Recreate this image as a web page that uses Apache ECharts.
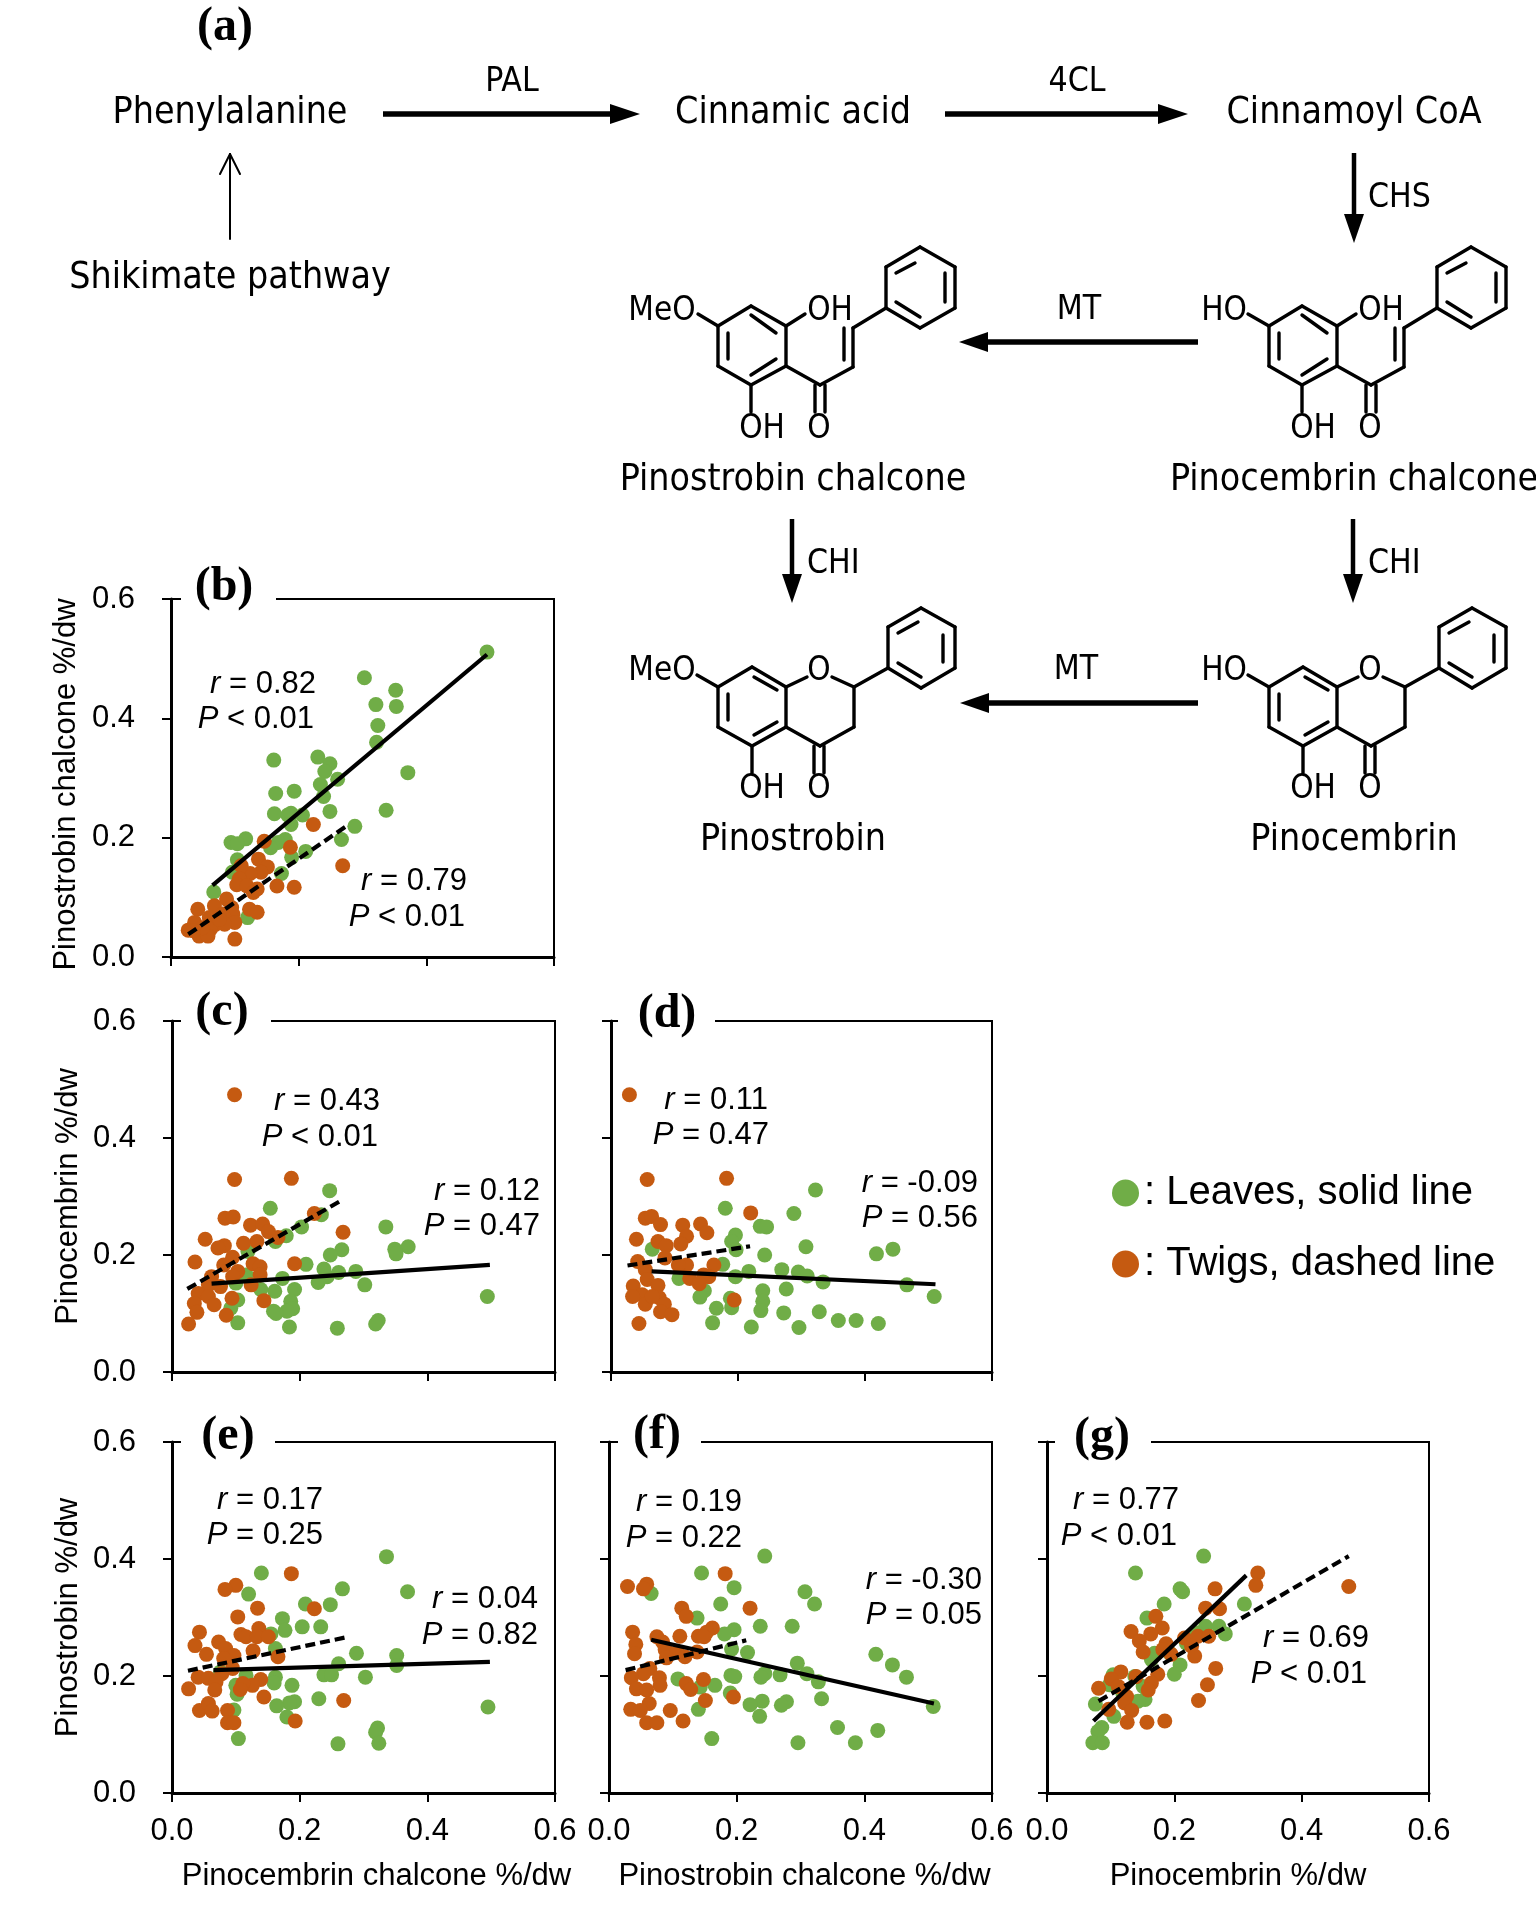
<!DOCTYPE html>
<html><head><meta charset="utf-8"><title>Flavonoid pathway and correlations</title>
<style>html,body{margin:0;padding:0;background:#fff}#chart{width:1536px;height:1912px}</style>
<script src="https://cdn.jsdelivr.net/npm/echarts@6/dist/echarts.min.js"></script>
</head><body><div id="chart"></div>
<script>
const bLeaves=[[.495,.511],[.303,.468],[.352,.447],[.353,.420],[.321,.423],[.324,.388],[.322,.360],[.371,.309],[.337,.246],[.161,.330],[.230,.335],[.249,.324],[.241,.311],[.261,.298],[.234,.289],[.239,.269],[.193,.278],[.164,.274],[.162,.240],[.183,.238],[.188,.241],[.206,.238],[.249,.244],[.188,.222],[.288,.219],[.267,.197],[.117,.198],[.094,.192],[.104,.190],[.179,.197],[.168,.192],[.156,.183],[.211,.177],[.189,.167],[.104,.163],[.096,.142],[.173,.140],[.067,.109],[.120,.066]];
const bTwigs=[[.223,.222],[.146,.194],[.187,.184],[.269,.153],[.193,.117],[.166,.119],[.137,.164],[.151,.151],[.141,.142],[.124,.140],[.110,.153],[.107,.131],[.103,.121],[.119,.119],[.135,.114],[.129,.108],[.087,.097],[.068,.086],[.042,.080],[.123,.080],[.135,.075],[.095,.083],[.097,.072],[.081,.072],[.060,.066],[.037,.058],[.027,.045],[.100,.058],[.084,.055],[.070,.055],[.062,.047],[.044,.035],[.058,.035],[.100,.030],[.049,.049],[.035,.044],[.076,.063]];
const cLeaves=[[.494,.129],[.247,.310],[.154,.280],[.234,.269],[.335,.248],[.203,.248],[.179,.233],[.162,.223],[.119,.206],[.370,.214],[.349,.210],[.351,.202],[.266,.209],[.248,.200],[.210,.184],[.238,.176],[.261,.170],[.288,.172],[.243,.163],[.229,.153],[.302,.149],[.173,.160],[.192,.141],[.161,.138],[.139,.141],[.116,.166],[.100,.152],[.103,.123],[.186,.121],[.189,.108],[.180,.104],[.159,.104],[.163,.100],[.092,.109],[.103,.084],[.184,.077],[.259,.075],[.323,.088],[.319,.082]];
const cTwigs=[[.098,.474],[.098,.329],[.187,.331],[.223,.271],[.268,.239],[.192,.185],[.083,.263],[.096,.265],[.123,.251],[.142,.253],[.151,.240],[.166,.230],[.052,.227],[.133,.223],[.112,.220],[.082,.216],[.072,.212],[.036,.188],[.095,.196],[.081,.183],[.127,.185],[.138,.180],[.138,.166],[.103,.172],[.095,.163],[.124,.149],[.062,.163],[.076,.146],[.057,.149],[.041,.134],[.057,.129],[.035,.117],[.066,.115],[.039,.102],[.094,.126],[.144,.122],[.085,.097],[.026,.082]];
const dLeaves=[[.509,.129],[.322,.311],[.288,.271],[.180,.280],[.235,.249],[.245,.248],[.196,.234],[.190,.223],[.197,.209],[.307,.214],[.444,.210],[.418,.202],[.242,.200],[.176,.184],[.065,.210],[.269,.175],[.217,.172],[.295,.171],[.309,.164],[.196,.163],[.107,.160],[.334,.154],[.466,.149],[.276,.142],[.239,.139],[.147,.139],[.140,.128],[.239,.121],[.188,.126],[.190,.110],[.236,.105],[.166,.109],[.272,.101],[.328,.103],[.160,.084],[.358,.088],[.386,.088],[.421,.083],[.221,.077],[.296,.076]];
const dTwigs=[[.029,.474],[.057,.329],[.182,.331],[.220,.272],[.054,.263],[.064,.266],[.078,.252],[.113,.251],[.141,.253],[.151,.238],[.119,.232],[.110,.219],[.040,.227],[.074,.223],[.087,.216],[.085,.195],[.042,.189],[.119,.183],[.106,.183],[.162,.183],[.146,.166],[.154,.163],[.054,.175],[.057,.158],[.074,.148],[.124,.160],[.139,.151],[.035,.147],[.049,.132],[.034,.129],[.076,.127],[.054,.116],[.084,.116],[.078,.103],[.096,.098],[.194,.123],[.044,.083],[.065,.129]];
const eLeaves=[[.495,.147],[.336,.404],[.140,.376],[.369,.344],[.267,.349],[.120,.340],[.209,.323],[.248,.322],[.173,.298],[.204,.284],[.233,.284],[.177,.278],[.155,.272],[.162,.247],[.289,.239],[.352,.235],[.261,.221],[.352,.218],[.238,.202],[.250,.202],[.303,.198],[.162,.198],[.160,.188],[.188,.184],[.116,.201],[.100,.184],[.102,.169],[.230,.161],[.192,.156],[.184,.154],[.164,.149],[.180,.130],[.097,.142],[.104,.093],[.322,.111],[.319,.104],[.324,.085],[.260,.084],[.076,.207]];
const eTwigs=[[.187,.375],[.100,.355],[.083,.348],[.223,.315],[.134,.316],[.103,.301],[.043,.275],[.036,.252],[.136,.281],[.108,.271],[.116,.267],[.133,.267],[.151,.267],[.073,.258],[.084,.247],[.127,.243],[.054,.237],[.097,.235],[.166,.233],[.081,.230],[.095,.213],[.078,.204],[.041,.198],[.057,.196],[.069,.190],[.067,.176],[.026,.178],[.139,.194],[.126,.184],[.111,.187],[.107,.177],[.144,.164],[.269,.158],[.043,.141],[.057,.153],[.063,.140],[.087,.141],[.193,.123],[.087,.120],[.097,.120]];
const fLeaves=[[.508,.148],[.244,.405],[.145,.376],[.307,.344],[.196,.351],[.066,.341],[.322,.323],[.175,.323],[.138,.299],[.237,.285],[.287,.285],[.196,.279],[.181,.272],[.192,.246],[.217,.240],[.418,.237],[.444,.219],[.295,.222],[.310,.204],[.466,.198],[.244,.204],[.238,.198],[.268,.202],[.191,.201],[.197,.199],[.108,.195],[.143,.181],[.166,.184],[.328,.190],[.190,.171],[.333,.161],[.240,.157],[.221,.151],[.278,.156],[.270,.150],[.140,.143],[.236,.131],[.161,.093],[.358,.112],[.421,.107],[.296,.086],[.386,.086]];
const fTwigs=[[.029,.353],[.059,.357],[.054,.349],[.182,.375],[.221,.316],[.114,.316],[.121,.302],[.162,.282],[.153,.275],[.140,.268],[.149,.267],[.037,.275],[.042,.254],[.040,.238],[.111,.268],[.075,.267],[.084,.258],[.088,.245],[.138,.241],[.107,.241],[.119,.233],[.090,.231],[.064,.213],[.054,.204],[.035,.197],[.079,.197],[.148,.194],[.080,.184],[.121,.187],[.128,.177],[.043,.178],[.059,.176],[.151,.158],[.195,.164],[.063,.153],[.034,.143],[.049,.141],[.096,.141],[.059,.120],[.075,.120],[.116,.123]];
const gLeaves=[[.246,.405],[.139,.376],[.209,.349],[.213,.344],[.184,.323],[.310,.323],[.157,.299],[.249,.285],[.270,.285],[.280,.272],[.169,.239],[.209,.219],[.200,.203],[.164,.228],[.193,.239],[.104,.202],[.138,.199],[.098,.185],[.151,.182],[.154,.160],[.143,.157],[.076,.152],[.105,.131],[.086,.112],[.080,.105],[.072,.086],[.087,.086],[.219,.256],[.235,.274],[.119,.171]];
const gTwigs=[[.331,.376],[.328,.355],[.474,.353],[.264,.349],[.249,.316],[.271,.315],[.171,.302],[.181,.282],[.163,.272],[.132,.276],[.145,.260],[.151,.241],[.187,.255],[.216,.265],[.237,.268],[.254,.268],[.227,.251],[.232,.234],[.195,.237],[.182,.245],[.265,.213],[.252,.185],[.238,.158],[.174,.203],[.164,.188],[.140,.199],[.159,.176],[.116,.207],[.101,.195],[.112,.182],[.081,.179],[.125,.165],[.122,.154],[.133,.141],[.097,.143],[.126,.121],[.157,.121],[.185,.123]];
const bLeafFit=[[.065,.120],[.495,.507]], bTwigFit=[[.027,.038],[.273,.218]];
const cLeafFit=[[.062,.151],[.498,.183]], cTwigFit=[[.024,.142],[.268,.295]];
const dLeafFit=[[.064,.172],[.511,.150]], dTwigFit=[[.026,.182],[.219,.215]];
const eLeafFit=[[.065,.210],[.498,.224]], eTwigFit=[[.025,.209],[.272,.266]];
const fLeafFit=[[.066,.262],[.509,.153]], fTwigFit=[[.026,.210],[.215,.261]];
const gLeafFit=[[.073,.123],[.313,.372]], gTwigFit=[[.081,.157],[.474,.405]];
const tickLabels=['0.0','0.2','0.4','0.6'];

const LEAF='#70AD47', TWIG='#C55A11';
const LEAF_NAME=': Leaves, solid line', TWIG_NAME=': Twigs, dashed line';
const SANS='"Liberation Sans", Arial, sans-serif';
const COND='"DejaVu Sans Condensed", "DejaVu Sans", sans-serif';
const SERIF='"Liberation Serif", "Times New Roman", serif';

const panels=[
 {tag:'(b)',lx:224,ly:588,gap:[181,276],box:[171,599,383,358],yName:'Pinostrobin chalcone %/dw',yGap:89,yPad:[0,13,0,0],yLabels:true,leaves:bLeaves,twigs:bTwigs,lf:bLeafFit,tf:bTwigFit,
  notes:[['r','= 0.82',316,684],['P','< 0.01',314,719],['r','= 0.79',467,881],['P','< 0.01',465,917]]},
 {tag:'(c)',lx:222,ly:1013,gap:[181,271],box:[172,1021,383,351],yName:'Pinocembrin %/dw',yGap:88,yPad:[0,0,0,0],yLabels:true,leaves:cLeaves,twigs:cTwigs,lf:cLeafFit,tf:cTwigFit,
  notes:[['r','= 0.43',380,1101],['P','< 0.01',378,1137],['r','= 0.12',540,1191],['P','= 0.47',540,1226]]},
 {tag:'(d)',lx:667,ly:1015,gap:[618,715],box:[611,1021,381,351],yLabels:false,leaves:dLeaves,twigs:dTwigs,lf:dLeafFit,tf:dTwigFit,
  notes:[['r','= 0.11',768,1100],['P','= 0.47',769,1135],['r','= -0.09',978,1183],['P','= 0.56',978,1218]]},
 {tag:'(e)',lx:228,ly:1437,gap:[181,275],box:[172,1442,383,351],yName:'Pinostrobin %/dw',yGap:88,yPad:[0,0,0,0],yLabels:true,xLabels:true,xName:'Pinocembrin chalcone %/dw',xPad:[0,0,0,26],leaves:eLeaves,twigs:eTwigs,lf:eLeafFit,tf:eTwigFit,
  notes:[['r','= 0.17',323,1500],['P','= 0.25',323,1535],['r','= 0.04',538,1599],['P','= 0.82',538,1635]]},
 {tag:'(f)',lx:657,ly:1436,gap:[618,701],box:[609,1442,383,351],yLabels:false,xLabels:true,xName:'Pinostrobin chalcone %/dw',xPad:[0,0,0,8],leaves:fLeaves,twigs:fTwigs,lf:fLeafFit,tf:fTwigFit,
  notes:[['r','= 0.19',742,1502],['P','= 0.22',742,1538],['r','= -0.30',982,1580],['P','= 0.05',982,1615]]},
 {tag:'(g)',lx:1102,ly:1438,gap:[1055,1151],box:[1047,1442,382,351],yLabels:false,xLabels:true,xName:'Pinocembrin %/dw',xPad:[0,0,0,0],leaves:gLeaves,twigs:gTwigs,lf:gLeafFit,tf:gTwigFit,
  notes:[['r','= 0.77',1179,1500],['P','< 0.01',1177,1536],['r','= 0.69',1369,1638],['P','< 0.01',1367,1674]]}
];

const grids=[],xAxes=[],yAxes=[],series=[],graphics=[];
const fmt=v=>tickLabels[Math.round(v/0.2)];
panels.forEach((p,i)=>{
  grids.push({left:p.box[0],top:p.box[1],width:p.box[2],height:p.box[3],show:true,borderColor:'#000',borderWidth:2,backgroundColor:'#fff',containLabel:false});
  const common={type:'value',min:0,max:0.6,interval:0.2,splitLine:{show:false},gridIndex:i,
    axisLine:{show:true,onZero:false,lineStyle:{color:'#000',width:3}},
    axisTick:{show:true,inside:false,length:9,lineStyle:{color:'#000',width:2}}};
  xAxes.push(Object.assign({},common,{
    axisLabel:{show:!!p.xLabels,formatter:fmt,color:'#000',fontFamily:SANS,fontSize:31,margin:23,showMinLabel:true,showMaxLabel:true,hideOverlap:false,alignMinLabel:'center',alignMaxLabel:'center'},
    name:p.xName||'',nameLocation:'middle',nameGap:68,nameTextStyle:{color:'#000',fontFamily:SANS,fontSize:31,padding:p.xPad||0}}));
  yAxes.push(Object.assign({},common,{
    axisLabel:{show:!!p.yLabels,formatter:fmt,color:'#000',fontFamily:SANS,fontSize:31,margin:36,padding:[3,0,0,0],showMinLabel:true,showMaxLabel:true,hideOverlap:false},
    name:p.yName||'',nameLocation:'middle',nameGap:p.yGap||90,nameRotate:90,nameTextStyle:{color:'#000',fontFamily:SANS,fontSize:31,padding:p.yPad||0}}));
  series.push({name:LEAF_NAME,type:'scatter',xAxisIndex:i,yAxisIndex:i,symbol:'circle',symbolSize:15,data:p.leaves,itemStyle:{color:LEAF,opacity:1},z:2});
  series.push({name:TWIG_NAME,type:'scatter',xAxisIndex:i,yAxisIndex:i,symbol:'circle',symbolSize:15,data:p.twigs,itemStyle:{color:TWIG,opacity:1},z:3});
  series.push({name:'Leaves fit '+p.tag,type:'line',xAxisIndex:i,yAxisIndex:i,data:p.lf,showSymbol:false,symbol:'none',lineStyle:{color:'#000',width:4.2,type:'solid'},z:4});
  series.push({name:'Twigs fit '+p.tag,type:'line',xAxisIndex:i,yAxisIndex:i,data:p.tf,showSymbol:false,symbol:'none',lineStyle:{color:'#000',width:4.2,type:[10,5]},z:4});
  graphics.push({type:'rect',shape:{x:p.gap[0],y:p.box[1]-5,width:p.gap[1]-p.gap[0],height:10},style:{fill:'#fff'},z:50});
  graphics.push(label(p.tag,p.lx,p.ly,{fontFamily:SERIF,fontWeight:'bold',fontSize:48},'center',51));
  p.notes.forEach(n=>graphics.push({type:'text',x:n[2],y:n[3],z:52,style:{
    text:'{i|'+n[0]+'} {n|'+n[1]+'}',align:'right',verticalAlign:'middle',textAlign:'right',textVerticalAlign:'middle',
    rich:{i:{fontFamily:SANS,fontStyle:'italic',fontSize:31,fill:'#000',color:'#000'},n:{fontFamily:SANS,fontSize:31,fill:'#000',color:'#000'}},
    fontFamily:SANS,fontSize:31,fill:'#000'}}));
});
function label(t,x,y,st,al,z){
  return {type:'text',x:x,y:y,z:z||60,style:Object.assign({text:t,fill:'#000',align:al||'center',verticalAlign:'middle',textAlign:al||'center',textVerticalAlign:'middle'},st)};
}
function seg(a,b,c,d,w){return {type:'line',z:60,shape:{x1:a,y1:b,x2:c,y2:d},style:{stroke:'#000',lineWidth:w||3,lineCap:'round'}};}
function head(pts){return {type:'polygon',z:60,shape:{points:pts},style:{fill:'#000'}};}
const PW={fontFamily:COND,fontSize:37.2}, EN={fontFamily:COND,fontSize:33.5}, AT={fontFamily:COND,fontSize:33};
const DY=3.5;
graphics.push(label('(a)',225,28,{fontFamily:SERIF,fontWeight:'bold',fontSize:48}));
[['Phenylalanine',230,110],['Shikimate pathway',230,275],['Cinnamic acid',793,110],['Cinnamoyl CoA',1354,110],['Pinostrobin chalcone',793,477],['Pinocembrin chalcone',1354,477],['Pinostrobin',793,837],['Pinocembrin',1354,837]]
 .forEach(t=>graphics.push(label(t[0],t[1],t[2]+DY,PW)));
[['PAL',512,79],['4CL',1077,79],['MT',1079,307],['MT',1076,667]].forEach(t=>graphics.push(label(t[0],t[1],t[2]+DY,EN)));
[['CHS',1368,195],['CHI',807,561],['CHI',1368,561]].forEach(t=>graphics.push(label(t[0],t[1],t[2]+DY,EN,'left')));
// pathway arrows: horizontal [x0, base, tip, y], vertical [x, y0, base, tip]
[[383,610,640,114],[945,1158,1188,114],[1198,988,959,342],[1198,989,960,703]].forEach(a=>{
  graphics.push(seg(a[0],a[3],a[1],a[3],5.5)); graphics[graphics.length-1].style.lineCap='butt';
  graphics.push(head([[a[1],a[3]-10],[a[2],a[3]],[a[1],a[3]+10]]));
});
[[1354,153,214,243],[792,519,574,603],[1353,519,574,603]].forEach(a=>{
  graphics.push(seg(a[0],a[1],a[0],a[2],4.5)); graphics[graphics.length-1].style.lineCap='butt';
  graphics.push(head([[a[0]-10,a[2]],[a[0],a[3]],[a[0]+10,a[2]]]));
});
graphics.push(seg(230,239,230,154,2),seg(230,154,220,174,2),seg(230,154,240,174,2));
// structure templates
const chalconeBonds=[[1302,306,1337,326],[1337,326,1337,366],[1337,366,1302,385],[1302,385,1269,366],[1269,366,1269,326],[1269,326,1302,306],
 [1279,333,1279,359],[1302,315,1327,333],[1327,359,1302,375],[1337,326,1356,314],[1302,385,1302,412],[1337,366,1371,385],[1366,385,1366,412],[1376,385,1376,412],
 [1371,385,1404,367],[1404,367,1404,328],[1395,328,1395,360],[1404,328,1437,308],[1437,308,1437,267],[1437,267,1471,247],[1471,247,1506,267],[1506,267,1506,308],[1506,308,1471,328],[1471,328,1437,308],
 [1447,273,1466,263],[1496,273,1496,302],[1447,302,1471,317]];
const chalconeAtoms=[['OH',1381,308],['OH',1313,426],['O',1370,426]];
const flavanoneBonds=[[1303,667,1337,687],[1337,687,1337,727],[1337,727,1303,746],[1303,746,1269,727],[1269,727,1269,687],[1269,687,1303,667],
 [1279,694,1279,720],[1305,677,1328,690],[1328,722,1305,735],[1337,687,1358,677],[1383,677,1405,687],[1405,687,1405,727],[1405,727,1371,746],[1371,746,1337,727],
 [1365,746,1365,773],[1375,746,1375,773],[1303,746,1303,773],[1405,687,1439,668],[1439,668,1439,627],[1439,627,1472,608],[1472,608,1506,627],[1506,627,1506,668],[1506,668,1472,688],[1472,688,1439,668],
 [1449,633,1469,622],[1494,635,1494,662],[1449,663,1472,677]];
const flavanoneAtoms=[['O',1370,668],['OH',1313,786],['O',1370,786]];
function mol(bonds,atoms,dx){
  bonds.forEach(b=>graphics.push(seg(b[0]+dx,b[1],b[2]+dx,b[3],3.4)));
  atoms.forEach(a=>graphics.push(label(a[0],a[1]+dx,a[2]+DY,AT)));
}
mol(chalconeBonds,chalconeAtoms,0); mol(chalconeBonds,chalconeAtoms,-551);
mol(flavanoneBonds,flavanoneAtoms,0); mol(flavanoneBonds,flavanoneAtoms,-551);
graphics.push(seg(1269,326,1248,314,3.4),seg(1269,687,1248,675,3.4),seg(718,326,698,314,3.4),seg(718,687,697,675,3.4));
graphics.push(label('HO',1224,308+DY,AT),label('HO',1224,668+DY,AT),label('MeO',662,308+DY,AT),label('MeO',662,668+DY,AT));

const chart=echarts.init(document.getElementById('chart'),null,{width:1536,height:1912,renderer:'canvas'});
chart.setOption({
  animation:false,backgroundColor:'#fff',tooltip:{show:false},
  legend:{data:[{name:LEAF_NAME,icon:'circle'},{name:TWIG_NAME,icon:'circle'}],orient:'vertical',left:1107,top:1168,itemWidth:27,itemHeight:27,itemGap:31,selectedMode:false,
    textStyle:{color:'#000',fontFamily:SANS,fontSize:40,padding:[0,0,0,0]}},
  grid:grids,xAxis:xAxes,yAxis:yAxes,series:series,graphic:{elements:graphics}
});
</script></body></html>
